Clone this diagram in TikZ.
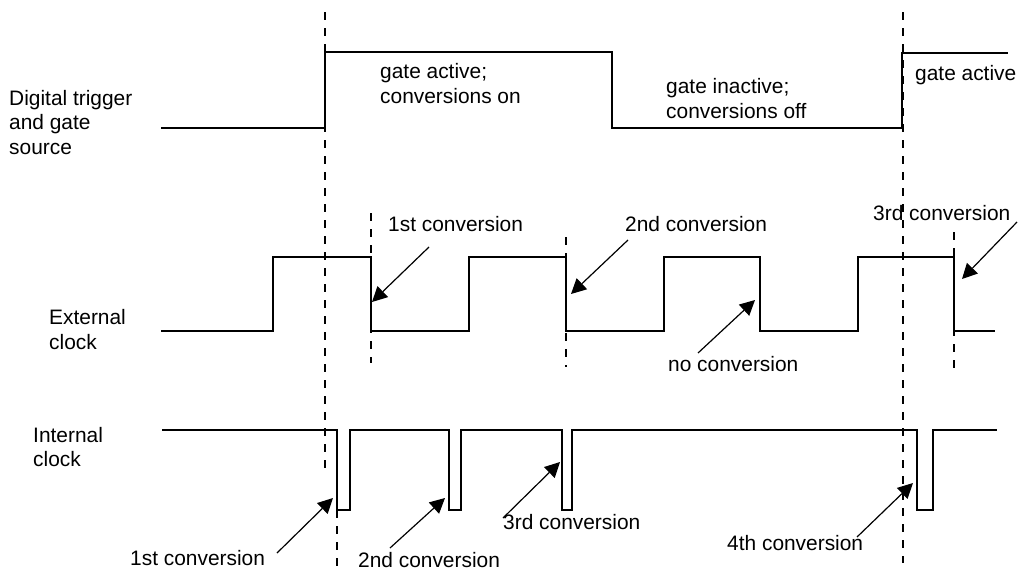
\documentclass[tikz,border=0pt]{standalone}
\usepackage{fontspec}
\setmainfont{Liberation Sans}
\usetikzlibrary{arrows.meta}
\begin{document}
\begin{tikzpicture}[x=1pt,y=-1pt,
  wave/.style={line width=1.3pt, line join=miter},
  guide/.style={line width=1.2pt, dash pattern=on 8pt off 8pt},
  lbl/.style={inner sep=0pt, anchor=base west, align=left, font=\fontsize{20.9}{24.5}\selectfont},
  pointer/.style={line width=1.2pt, -{Triangle[length=15pt,width=15pt]}}]
\useasboundingbox (0,0) rectangle (1019,571);

% waveforms
\draw[wave] (161,128) -- (325,128) -- (325,52) -- (612,52) -- (612,128) -- (902,128) -- (902,53) -- (1008,53);
\draw[wave] (161,331) -- (273,331) -- (273,257) -- (371,257) -- (371,331) -- (469,331) -- (469,257)
  -- (566,257) -- (566,331) -- (664,331) -- (664,257) -- (760,257) -- (760,331) -- (858,331)
  -- (858,257) -- (954,257) -- (954,331) -- (995,331);
\draw[wave] (162,430) -- (337,430) -- (337,510) -- (350,510) -- (350,430) -- (449,430) -- (449,510)
  -- (461,510) -- (461,430) -- (562,430) -- (562,510) -- (572,510) -- (572,430) -- (917,430)
  -- (917,510) -- (933,510) -- (933,430) -- (997,430);

% dashed guides
\draw[guide] (325,12) -- (325,472);
\draw[guide] (337,510) -- (337,571);
\draw[guide] (903,12) -- (903,563);
\draw[guide] (371,213) -- (371,363);
\draw[guide] (566,237) -- (566,367);
\draw[guide] (954,232) -- (954,370);

% labels (multi-line nodes: base = last line)
\node[lbl] (dig) at (9,154) {Digital trigger\\and gate\\source};
\node[lbl] (ext) at (49,349) {External\\clock};
\node[lbl] (int) at (33,466.7) {Internal\\clock};
\node[lbl] (g1) at (380,103) {gate active;\\conversions on};
\node[lbl] (g2) at (666,118) {gate inactive;\\conversions off};
\node[lbl] (g3) at (915,80) {gate active};
\node[lbl] (e1) at (388,231) {1st conversion};
\node[lbl] (e2) at (625,231) {2nd conversion};
\node[lbl] (e3) at (873,220) {3rd conversion};
\node[lbl] (nc) at (668,371) {no conversion};
\node[lbl] (i1) at (130,565) {1st conversion};
\node[lbl] (i2) at (358,567) {2nd conversion};
\node[lbl] (i3) at (503,529) {3rd conversion};
\node[lbl] (i4) at (727,550) {4th conversion};

% arrow ends
\coordinate (e1s) at (429,247); \coordinate (e1t) at (372,302);
\coordinate (e2s) at (628,240); \coordinate (e2t) at (571,294);
\coordinate (ncs) at (698,353); \coordinate (nct) at (755,300);
\coordinate (e3s) at (1017,222); \coordinate (e3t) at (962,279);
\coordinate (i1s) at (277,553); \coordinate (i1t) at (333,498);
\coordinate (i2s) at (390,548); \coordinate (i2t) at (445,498);
\coordinate (i3s) at (503,518); \coordinate (i3t) at (560,462);
\coordinate (i4s) at (857,537); \coordinate (i4t) at (913,483);

\draw[pointer] (e1s) -- (e1t);
\draw[pointer] (e2s) -- (e2t);
\draw[pointer] (ncs) -- (nct);
\draw[pointer] (e3s) -- (e3t);
\draw[pointer] (i1s) -- (i1t);
\draw[pointer] (i2s) -- (i2t);
\draw[pointer] (i3s) -- (i3t);
\draw[pointer] (i4s) -- (i4t);
\end{tikzpicture}
\end{document}
